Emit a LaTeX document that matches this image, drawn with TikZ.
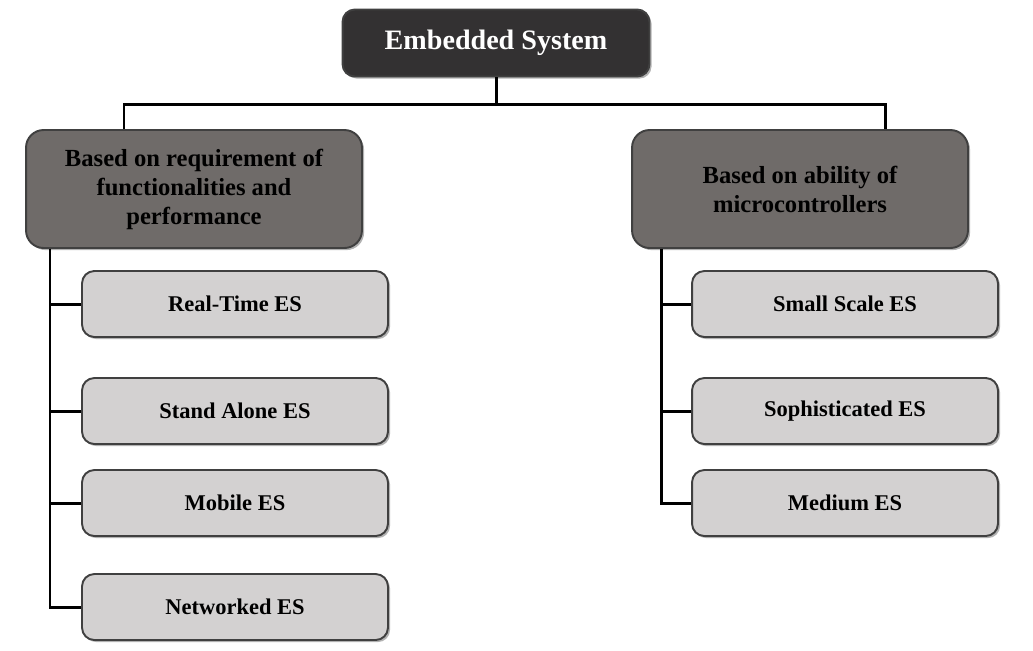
\documentclass[tikz,border=0pt]{standalone}
\usepackage{fontspec}
\setmainfont{Liberation Serif}
\usetikzlibrary{positioning, shadows}
\definecolor{rootgray}{HTML}{333132}
\definecolor{catgray}{HTML}{6F6B69}
\definecolor{leafgray}{HTML}{D3D1D1}

\begin{document}
\begin{tikzpicture}[x=0.02cm, y=-0.02cm, line width=1.7pt,
    root/.style={draw=black!75, fill=rootgray, rounded corners=7pt, text=white, line width=1.1pt,
      minimum width=6.14cm, minimum height=1.34cm, font=\bfseries\fontsize{16}{19}\selectfont,
      drop shadow={shadow xshift=1.2pt, shadow yshift=-1.2pt, fill=black!60}},
    cat/.style={draw=black!75, fill=catgray, rounded corners=10pt, align=center, line width=1.1pt,
      minimum width=6.72cm, minimum height=2.36cm, font=\bfseries\fontsize{14}{16.5}\selectfont,
      drop shadow={shadow xshift=1.2pt, shadow yshift=-1.2pt, fill=black!60}},
    leaf/.style={draw=black!75, fill=leafgray, rounded corners=7pt, line width=1.1pt,
      minimum width=6.12cm, minimum height=1.32cm, font=\bfseries\fontsize{12.8}{15}\selectfont,
      drop shadow={shadow xshift=1.2pt, shadow yshift=-1.2pt, fill=black!60}}]
  \useasboundingbox (0,0) rectangle (1033,650);
  % ---- root and the two categories ----
  \node[root] (es) at (496,43) {Embedded System};
  \node[cat] (req) at (194,189) {Based on requirement of\\functionalities and\\performance};
  \node[cat] (abl) at (800,189) {Based on ability of\\microcontrollers};
  \coordinate (bus) at (496,104);
  \draw (es.south) -- (bus);
  \draw (req.north -| 124,0) |- (bus) -| (abl.north -| 885,0);
  % ---- left branch ----
  \node[leaf] (rt)  at (235,304) {Real-Time ES};
  \node[leaf] (sa)  at (235,411) {Stand Alone ES};
  \node[leaf] (mob) at (235,503) {Mobile ES};
  \node[leaf] (net) at (235,607) {Networked ES};
  \draw (req.south -| 50,0) |- (net.west);
  \foreach \n in {rt, sa, mob}
    \draw (\n.west) -- (\n.west -| 50,0);
  % ---- right branch ----
  \node[leaf] (small) at (845,304) {Small Scale ES};
  \node[leaf] (soph)  at (845,411) {Sophisticated ES};
  \node[leaf] (med)   at (845,503) {Medium ES};
  \draw (abl.south -| 661,0) |- (med.west);
  \foreach \n in {small, soph}
    \draw (\n.west) -- (\n.west -| 661,0);
\end{tikzpicture}
\end{document}
